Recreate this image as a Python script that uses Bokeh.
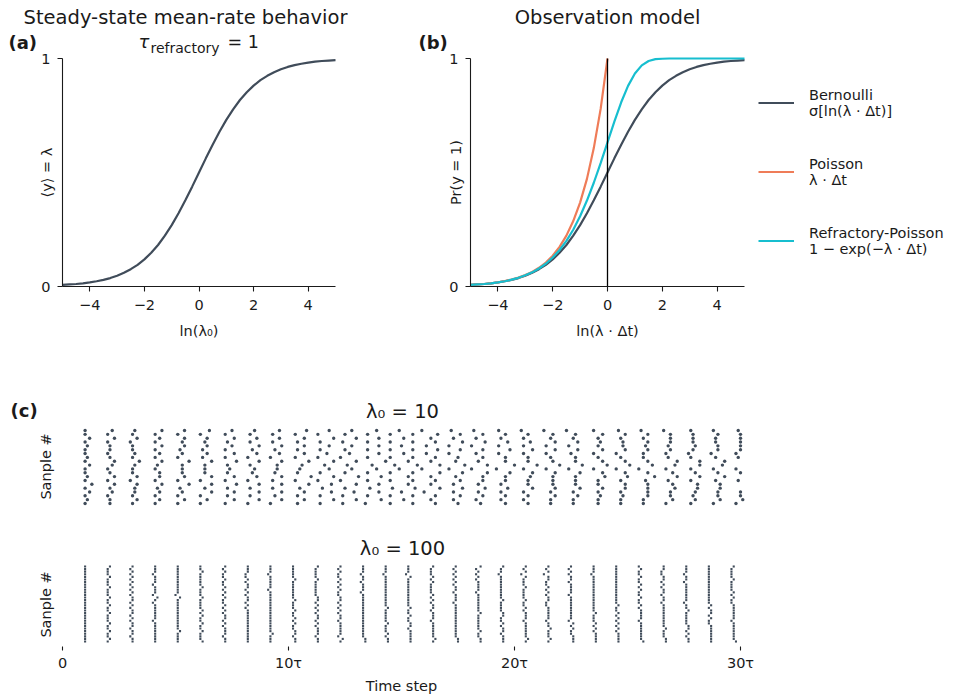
import math
from bokeh.plotting import figure
from bokeh.models import Range1d, Label, Legend, LegendItem, FixedTicker, LinearAxis
from bokeh.embed import file_html
from bokeh.resources import INLINE

FONT = "DejaVu Sans"
DARK = "#404c5a"
ORANGE = "#ef7c58"
CYAN = "#17becf"
INK = "#1a1a1a"

# ---------------- data: panels (a) and (b) ----------------
log_rate = [-5.0, -4.75, -4.5, -4.25, -4.0, -3.75, -3.5, -3.25, -3.0, -2.75, -2.5,
            -2.25, -2.0, -1.75, -1.5, -1.25, -1.0, -0.75, -0.5, -0.25, 0.0,
            0.25, 0.5, 0.75, 1.0, 1.25, 1.5, 1.75, 2.0, 2.25, 2.5,
            2.75, 3.0, 3.25, 3.5, 3.75, 4.0, 4.25, 4.5, 4.75, 5.0]
mean_rate = [0.007, 0.009, 0.011, 0.014, 0.018, 0.023, 0.029, 0.037, 0.047, 0.060, 0.076,
             0.095, 0.119, 0.148, 0.182, 0.223, 0.269, 0.321, 0.378, 0.438, 0.500,
             0.562, 0.622, 0.679, 0.731, 0.777, 0.818, 0.852, 0.881, 0.905, 0.924,
             0.940, 0.953, 0.963, 0.971, 0.977, 0.982, 0.986, 0.989, 0.991, 0.993]
bernoulli_p = mean_rate
poisson_x = [-5.0, -4.75, -4.5, -4.25, -4.0, -3.75, -3.5, -3.25, -3.0, -2.75, -2.5,
             -2.25, -2.0, -1.75, -1.5, -1.25, -1.0, -0.75, -0.5, -0.25, 0.0]
poisson_p = [0.007, 0.009, 0.011, 0.014, 0.018, 0.024, 0.030, 0.039, 0.050, 0.064, 0.082,
             0.105, 0.135, 0.174, 0.223, 0.287, 0.368, 0.472, 0.607, 0.779, 1.000]
refractory_p = [0.007, 0.009, 0.011, 0.014, 0.018, 0.023, 0.030, 0.038, 0.049, 0.062, 0.079,
                0.100, 0.127, 0.160, 0.200, 0.249, 0.308, 0.377, 0.455, 0.541, 0.632,
                0.723, 0.808, 0.880, 0.934, 0.970, 0.989, 0.997, 0.999, 1.000, 1.000,
                1.000, 1.000, 1.000, 1.000, 1.000, 1.000, 1.000, 1.000, 1.000, 1.000]
zero_line_x = [0, 0]
zero_line_y = [0, 1]
x_ticks = [-4, -2, 0, 2, 4]
x_tick_labels = ["−4", "−2", "0", "2", "4"]
y_ticks = [0, 1]

legend_names = ["Bernoulli", "Poisson", "Refractory-Poisson"]
legend_formulas = ["σ[ln(λ · Δt)]", "λ · Δt", "1 − exp(−λ · Δt)"]

# ---------------- data: panel (c) rasters ----------------
# one string per sample; each digit = extra delay (time steps) after the refractory period
refractory_steps = 10
t_end = 301
time_ticks = [0, 100, 200, 300]
time_tick_labels = ["0", "10τ", "20τ", "30τ"]

delays_lam10 = [
    "010000100200010000100010001000",
    "102010210030102001020100301020",
    "001000201000100010002000100100",
    "200103010020100310020102010030",
    "011001000200100100010100020010",
    "300120100201030010210020110200",
    "000100101000200010001000100100",
    "120012001301020120100302001210",
    "010200010001000201000100010002",
    "001020110030100201200100210010",
    "200010002100100010200010001000",
    "031020100210300102010200301001",
    "100001000100200001000100010100",
    "002101200100310020101002000120",
    "010010020001000100200010000100",
    "100300120010201002100310020011",
    "000120000100100020001000100010",
    "210010200130012001020100200102",
    "001000110002000100001020000100",
    "020201001200100301000210020100",
]
delays_lam100 = [
    "001001000100100010000100100010",
    "010000100101000100010000010001",
    "000100010000101000100100000100",
    "001000101000010000010010001000",
    "010010000100001001000000100101",
    "000100100010000100101000010000",
    "001000010001001000010000101000",
    "010001000100010000100100000010",
    "000010010000100010000010010001",
    "001000100100000100010001000100",
    "000101000010001000100000100010",
    "010000010000100101000010000100",
    "001001000100000010001000101000",
    "000100001000110000010000010010",
    "010000100010000100000101000100",
    "000010001000100001000100000101",
    "001000010100000100100000010000",
    "010100000010000010001000100010",
    "000001001000100100000010001000",
    "001000100000010000101000010010",
    "000100000101000010000100100000",
    "010001000000100010010000001001",
    "000010010001000001000100100000",
    "001000001000010100000010000100",
    "000100100100000000101000010010",
    "010000001000101000010000100000",
    "000010000100000100000101000101",
    "001001000001000010010000001000",
    "000100010000100000100010100001",
    "010000100010000101000000010010",
]


def raster_points(rows):
    xs, ys = [], []
    for i, s in enumerate(rows):
        t = 0
        for ch in s:
            t += refractory_steps + int(ch)
            if t > t_end:
                break
            xs.append(t)
            ys.append(i)
    return xs, ys


# ---------------- page geometry (pixels) ----------------
W, H = 970, 696


def value_at(v0, v1, p0, p1, px):
    return v0 + (px - p0) * (v1 - v0) / (p1 - p0)


def xr(v0, v1, p0, p1):
    return Range1d(value_at(v0, v1, p0, p1, 0), value_at(v0, v1, p0, p1, W))


def yr(v0, v1, p0, p1):
    return Range1d(value_at(v0, v1, p0, p1, H), value_at(v0, v1, p0, p1, 0))


n1, n2 = len(delays_lam10), len(delays_lam100)
p = figure(width=W, height=H, x_range=Range1d(0, W), y_range=Range1d(H, 0),
           x_axis_type=None, y_axis_type=None, min_border=0,
           output_backend="svg", toolbar_location=None)
p.outline_line_color = None
p.extra_x_ranges = {"a_x": xr(-5, 5, 62, 335), "b_x": xr(-5, 5, 470, 744),
                    "r_x": xr(0, 300, 62, 740)}
p.extra_y_ranges = {"ab_y": yr(0, 1, 286, 58),
                    "r1_y": yr(0, n1 - 1, 503, 430),
                    "r2_y": yr(0, n2 - 1, 641, 566)}


def style_axis(ax):
    ax.axis_line_color = INK
    ax.axis_line_width = 1.1
    ax.major_tick_line_color = INK
    ax.major_tick_line_width = 1.1
    ax.major_tick_out = 5
    ax.major_tick_in = 0
    ax.minor_tick_line_color = None
    ax.major_label_text_font = FONT
    ax.major_label_text_font_size = "14.5px"
    ax.major_label_text_color = INK
    ax.axis_label_text_font = FONT
    ax.axis_label_text_font_size = "14.5px"
    ax.axis_label_text_font_style = "normal"
    ax.axis_label_text_color = INK


def lab(text, x, y, size="14.5px", style="normal", align="center", angle=0.0):
    p.add_layout(Label(x=x, y=y, text=text, text_font=FONT, text_font_size=size,
                       text_font_style=style, text_align=align, text_baseline="middle",
                       text_color=INK, angle=angle))


def curve_axes(xname, xlabel):
    xa = LinearAxis(x_range_name=xname, y_range_name="ab_y", fixed_location=0,
                    bounds=(-5, 5), ticker=FixedTicker(ticks=x_ticks))
    style_axis(xa)
    xa.major_label_overrides = dict(zip(x_ticks, x_tick_labels))
    xa.major_label_standoff = 8
    xa.axis_label = xlabel
    xa.axis_label_standoff = 10
    p.add_layout(xa, "below")
    ya = LinearAxis(x_range_name=xname, y_range_name="ab_y", fixed_location=-5,
                    bounds=(0, 1), ticker=FixedTicker(ticks=y_ticks))
    style_axis(ya)
    ya.major_label_standoff = 7
    p.add_layout(ya, "left")


# ---------------- panel (a) ----------------
curve_axes("a_x", "ln(λ₀)")
p.line(log_rate, mean_rate, line_color=DARK, line_width=2.2,
       x_range_name="a_x", y_range_name="ab_y")
lab("Steady-state mean-rate behavior", 185, 17, size="19.5px")
lab("τ", 138, 41, size="18px", style="italic", align="left")
lab("refractory", 150, 47, size="14px", align="left")
lab("= 1", 227, 41, size="17.5px", align="left")
lab("(a)", 8, 42, size="18px", style="bold", align="left")
lab("⟨y⟩ = λ", 46, 172, angle=math.pi / 2)

# ---------------- panel (b) ----------------
curve_axes("b_x", "ln(λ · Δt)")
rb = p.line(log_rate, bernoulli_p, line_color=DARK, line_width=2.2,
            x_range_name="b_x", y_range_name="ab_y")
rp = p.line(poisson_x, poisson_p, line_color=ORANGE, line_width=2.2,
            x_range_name="b_x", y_range_name="ab_y")
rr = p.line(log_rate, refractory_p, line_color=CYAN, line_width=2.2,
            x_range_name="b_x", y_range_name="ab_y")
p.line(zero_line_x, zero_line_y, line_color="black", line_width=1.3,
       x_range_name="b_x", y_range_name="ab_y")
lab("Observation model", 607, 17, size="19.5px")
lab("(b)", 418, 42, size="18px", style="bold", align="left")
lab("Pr(y = 1)", 455, 172, angle=math.pi / 2)

items = [LegendItem(label=n + "\n" + f, renderers=[r])
         for n, f, r in zip(legend_names, legend_formulas, [rb, rp, rr])]
leg = Legend(items=items, location=(758, H - 258), orientation="vertical",
             glyph_width=36, glyph_height=35, label_standoff=15, spacing=34,
             padding=0, margin=0, border_line_color=None, background_fill_alpha=0,
             label_text_font=FONT, label_text_font_size="14.5px", label_text_color=INK,
             label_height=35)
p.add_layout(leg, "center")

# ---------------- panel (c) ----------------
x1, y1 = raster_points(delays_lam10)
p.scatter(x1, y1, marker="circle", size=3.4, fill_color=DARK, line_color=None,
          x_range_name="r_x", y_range_name="r1_y")
x2, y2 = raster_points(delays_lam100)
p.scatter(x2, y2, marker="square", size=2.1, fill_color=DARK, line_color=None,
          x_range_name="r_x", y_range_name="r2_y")

ta = LinearAxis(x_range_name="r_x", y_range_name="r2_y",
                fixed_location=value_at(0, n2 - 1, 641, 566, 645.5),
                bounds=(0, 300), ticker=FixedTicker(ticks=time_ticks))
style_axis(ta)
ta.axis_line_color = None
ta.major_tick_out = 4
ta.major_label_overrides = dict(zip(time_ticks, time_tick_labels))
ta.major_label_standoff = 5
ta.axis_label = "Time step"
ta.axis_label_standoff = 3
p.add_layout(ta, "below")

lab("λ₀ = 10", 402, 411, size="19.5px")
lab("λ₀ = 100", 402, 548, size="19.5px")
lab("(c)", 10, 410, size="18px", style="bold", align="left")
lab("Sanple #", 45, 466, angle=math.pi / 2)
lab("Sanple #", 45, 604, angle=math.pi / 2)

open("out.html", "w").write(file_html(p, INLINE))
